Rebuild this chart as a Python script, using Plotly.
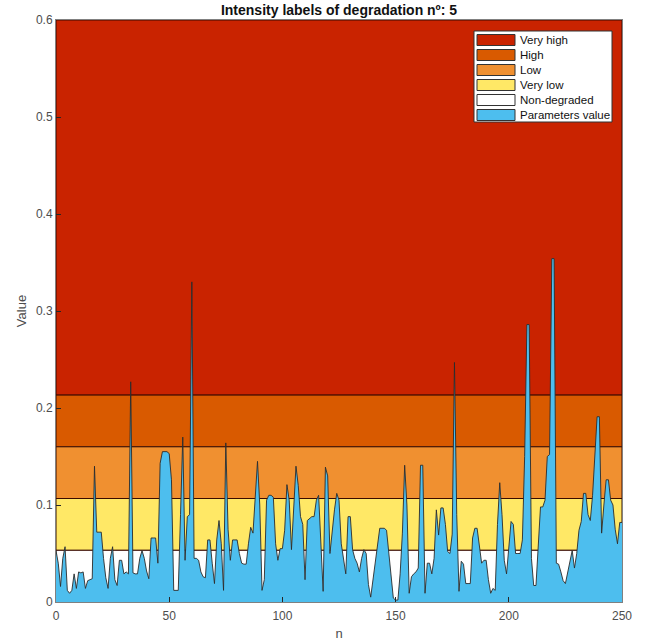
import plotly.graph_objects as go

# Degradation intensity thresholds (band limits) and their labels/colours
band_names = ["Very high", "High", "Low", "Very low", "Non-degraded"]
band_lower = [0.2133, 0.16, 0.1067, 0.0533, 0.0]
band_upper = [0.6, 0.2133, 0.16, 0.1067, 0.0533]
band_colors = ["#c92300", "#d95a00", "#f09030", "#ffe866", "#ffffff"]
series_name = "Parameters value"
series_color = "#4dbeee"

# Sample index and measured parameter value
n = list(range(0, 251))
values = [
    0.053, 0.040, 0.016, 0.045, 0.057, 0.012, 0.009, 0.012, 0.029, 0.014,
    0.031, 0.030, 0.031, 0.014, 0.022, 0.023, 0.024, 0.140, 0.072, 0.072,
    0.072, 0.045, 0.025, 0.014, 0.045, 0.057, 0.023, 0.017, 0.043, 0.043,
    0.029, 0.031, 0.029, 0.227, 0.030, 0.029, 0.029, 0.045, 0.053, 0.045,
    0.032, 0.024, 0.066, 0.066, 0.066, 0.040, 0.143, 0.155, 0.155, 0.155,
    0.153, 0.126, 0.012, 0.012, 0.012, 0.090, 0.170, 0.043, 0.088, 0.090,
    0.330, 0.045, 0.045, 0.043, 0.031, 0.026, 0.025, 0.064, 0.064, 0.040,
    0.019, 0.064, 0.084, 0.060, 0.012, 0.164, 0.075, 0.043, 0.064, 0.064,
    0.064, 0.050, 0.040, 0.039, 0.039, 0.060, 0.077, 0.071, 0.103, 0.145,
    0.100, 0.012, 0.023, 0.105, 0.110, 0.110, 0.108, 0.060, 0.043, 0.055,
    0.055, 0.074, 0.121, 0.105, 0.054, 0.100, 0.140, 0.120, 0.088, 0.080,
    0.023, 0.084, 0.086, 0.088, 0.088, 0.105, 0.110, 0.060, 0.011, 0.139,
    0.130, 0.050, 0.074, 0.095, 0.112, 0.105, 0.060, 0.045, 0.029, 0.088,
    0.088, 0.054, 0.045, 0.040, 0.031, 0.045, 0.054, 0.050, 0.018, 0.005,
    0.023, 0.040, 0.054, 0.076, 0.076, 0.076, 0.074, 0.050, 0.021, 0.004,
    0.002, 0.002, 0.029, 0.071, 0.141, 0.100, 0.009, 0.026, 0.029, 0.031,
    0.035, 0.141, 0.141, 0.009, 0.040, 0.040, 0.029, 0.045, 0.095, 0.069,
    0.097, 0.097, 0.080, 0.052, 0.050, 0.070, 0.247, 0.090, 0.011, 0.042,
    0.039, 0.019, 0.019, 0.019, 0.066, 0.076, 0.076, 0.055, 0.040, 0.043,
    0.043, 0.023, 0.009, 0.014, 0.012, 0.080, 0.123, 0.090, 0.043, 0.029,
    0.060, 0.083, 0.080, 0.050, 0.050, 0.050, 0.064, 0.150, 0.286, 0.286,
    0.045, 0.017, 0.017, 0.060, 0.098, 0.098, 0.105, 0.150, 0.152, 0.354,
    0.354, 0.040, 0.039, 0.031, 0.022, 0.019, 0.030, 0.040, 0.053, 0.035,
    0.050, 0.074, 0.083, 0.112, 0.112, 0.090, 0.084, 0.110, 0.150, 0.191,
    0.191, 0.071, 0.100, 0.126, 0.126, 0.105, 0.100, 0.075, 0.060, 0.082,
    0.082,
]

x_ticks = [0, 50, 100, 150, 200, 250]
y_ticks = [0, 0.1, 0.2, 0.3, 0.4, 0.5, 0.6]

FONT = "Liberation Sans, Arial, sans-serif"
W, H = 645, 642
ML, MR, MT, MB = 56, 23, 20, 40
PW, PH = W - ML - MR, H - MT - MB

fig = go.Figure()

# Horizontal intensity bands across the whole sample range
x0, x1 = n[0], n[-1]
for name, lo, hi, col in zip(band_names, band_lower, band_upper, band_colors):
    fig.add_trace(go.Scatter(
        x=[x0, x1, x1, x0, x0], y=[lo, lo, hi, hi, lo],
        mode="lines", fill="toself", fillcolor=col,
        line=dict(color="#3a0a00", width=1),
        name=name, hoverinfo="skip", showlegend=False,
    ))

# Parameter value as a filled area
fig.add_trace(go.Scatter(
    x=n, y=values, mode="lines", fill="tozeroy",
    fillcolor=series_color, line=dict(color="#2b2b2b", width=0.9),
    name=series_name, showlegend=False,
))

# Boxed legend with wide colour patches (pixel layout converted to paper coords)
def px_x(p):
    return (p - ML) / PW

def px_y(p):
    return (H - MB - p) / PH

shapes = [dict(type="rect", xref="paper", yref="paper",
               x0=px_x(474), x1=px_x(612), y0=px_y(122), y1=px_y(31),
               fillcolor="white", line=dict(color="#333333", width=1), layer="above")]
annotations = []
entries = list(zip(band_names, band_colors)) + [(series_name, series_color)]
for i, (name, col) in enumerate(entries):
    top = 34.5 + i * 15
    shapes.append(dict(type="rect", xref="paper", yref="paper",
                       x0=px_x(477), x1=px_x(515), y0=px_y(top + 11), y1=px_y(top),
                       fillcolor=col, line=dict(color="#333333", width=1), layer="above"))
    annotations.append(dict(xref="paper", yref="paper", x=px_x(518), y=px_y(top + 5.5),
                            xanchor="left", yanchor="middle", showarrow=False,
                            text=name, font=dict(family=FONT, size=11.5, color="#111111")))

axis_common = dict(
    showline=True, mirror=True, linecolor="#808080", linewidth=1,
    ticks="inside", ticklen=5, tickcolor="#262626",
    showgrid=False, zeroline=False, automargin=False,
    tickfont=dict(family=FONT, size=12, color="#4d4d4d"),
)

fig.update_layout(
    width=W, height=H,
    margin=dict(l=ML, r=MR, t=MT, b=MB),
    paper_bgcolor="white", plot_bgcolor="white",
    title=dict(
        text="<b>Intensity labels of degradation nº: 5</b>",
        x=(ML + W - MR) / 2 / W, xanchor="center", y=1 - 10 / H, yanchor="middle",
        font=dict(family=FONT, size=14, color="#111111"),
    ),
    xaxis=dict(range=[0, 250], tickvals=x_ticks, ticktext=[str(v) for v in x_ticks],
               ticklabelstandoff=3,
               title=dict(text="n", standoff=6, font=dict(family=FONT, size=13, color="#4d4d4d")),
               **axis_common),
    yaxis=dict(range=[0, 0.6], tickvals=y_ticks, ticktext=[("%g" % v) for v in y_ticks],
               title=dict(text="Value", standoff=6, font=dict(family=FONT, size=13, color="#4d4d4d")),
               **axis_common),
    shapes=shapes,
    annotations=annotations,
    showlegend=False,
)

fig.write_html("out.html")
